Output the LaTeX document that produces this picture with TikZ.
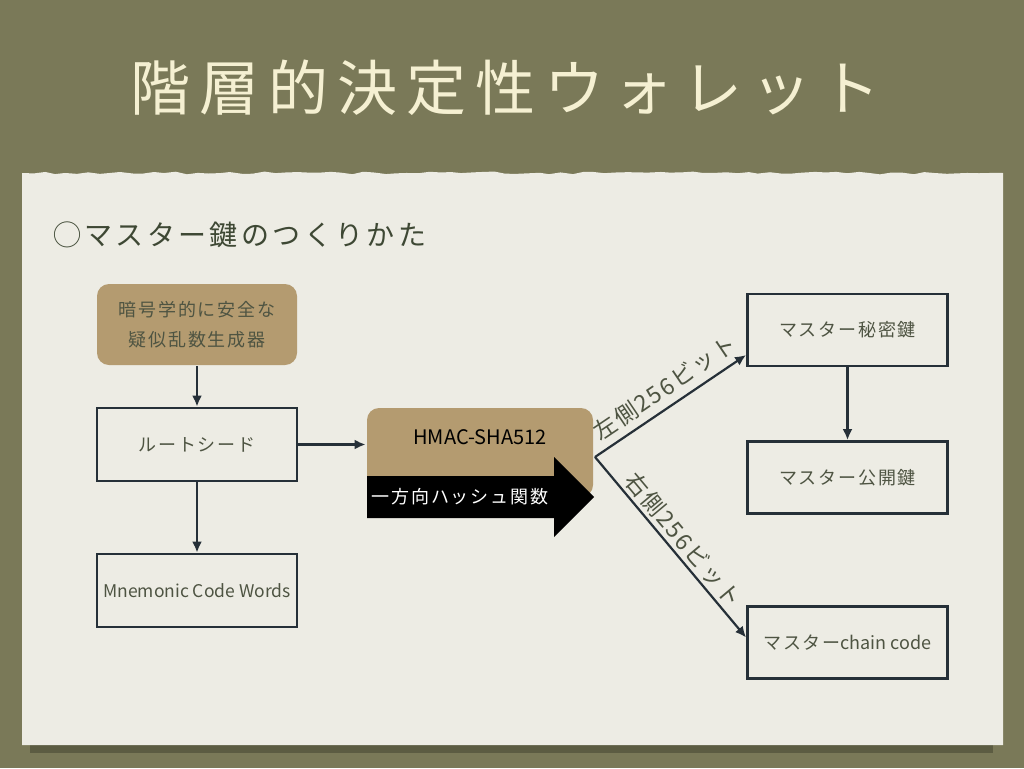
\documentclass[tikz,border=0pt]{standalone}
\usepackage{fontspec}
\setmainfont{Noto Sans CJK JP}
\newfontfamily\jpfont{Noto Sans CJK JP}
\newfontfamily\titlefont[LetterSpace=15]{Noto Sans CJK JP}
\newfontfamily\subfont[LetterSpace=12]{Noto Sans CJK JP}
\newfontfamily\boxfont[LetterSpace=10]{Noto Sans CJK JP}
\newfontfamily\labelfont[LetterSpace=8]{Noto Sans CJK JP}
\usetikzlibrary{arrows.meta, decorations.pathmorphing}
\definecolor{olivebg}{RGB}{122,121,88}
\definecolor{shadowolive}{RGB}{92,92,66}
\definecolor{paper}{RGB}{237,236,228}
\definecolor{tan}{RGB}{180,155,112}
\definecolor{edgeblue}{RGB}{38,48,56}
\definecolor{inkgray}{RGB}{78,84,66}
\definecolor{subink}{RGB}{62,72,52}
\definecolor{titlecream}{RGB}{245,240,210}

\begin{document}
\begin{tikzpicture}[x=1pt, y=-1pt,
% boxes
box/.style={rectangle, draw=edgeblue, line width=2.8pt, fill=paper, minimum width=200pt, minimum height=72pt, text=inkgray, font=\boxfont\fontsize{18}{30}\selectfont, align=center},
tanbox/.style={box, draw=none, fill=tan, rounded corners=12pt},
% connectors
link/.style={draw=edgeblue, line width=2.2pt, -{Latex[length=11pt, width=10pt]}},
linklabel/.style={sloped, above, text=inkgray, font=\labelfont\fontsize{23}{23}\selectfont},
% headings
heading/.style={text=titlecream, font=\titlefont\fontsize{60}{60}\selectfont},
subheading/.style={anchor=west, inner sep=0, text=subink, font=\subfont\fontsize{28}{28}\selectfont}
]

\useasboundingbox (0,0) rectangle (1024,768);

% background and paper sheet
\fill[olivebg] (0,0) rectangle (1024,768);
\fill[shadowolive] (30,738) rectangle (993,753);
\fill[paper] (22,745) -- (22,173) decorate[decoration={random steps, segment length=11pt, amplitude=1.4pt}] { -- (1003,173) } -- (1003,745) -- cycle;

% headings
\node[heading] (title) at (505,88) {階層的決定性ウォレット};
\node[subheading] (subtitle) at (53,235) {◯マスター鍵のつくりかた};

% left column
\node[tanbox, minimum height=81pt] (prng) at (197,324.5) {暗号学的に安全な\\疑似乱数生成器};
\node[box, minimum height=73pt] (root) at (197,444.5) {ルートシード};
\node[box, minimum height=73pt, font=\jpfont\fontsize{17.5}{20}\selectfont] (mnem) at (197,590.5) {Mnemonic Code Words};

% hash function
\node[tanbox, minimum width=226pt, minimum height=89pt] (hmac) at (480,452.5) {};
\node[text=black, font=\jpfont\fontsize{20}{20}\selectfont] (hmaclabel) at (480,437) {HMAC-SHA512};
\fill[black] (367,476) -- (554,476) -- (554,457) -- (594,497) -- (554,537) -- (554,518) -- (367,518) -- cycle;
\node[text=white, font=\boxfont\fontsize{18}{20}\selectfont] (hashlabel) at (460,497) {一方向ハッシュ関数};
\coordinate (fork) at (595,457);

% right column
\node[box] (secret) at (847.5,330) {マスター秘密鍵};
\node[box] (public) at (847.5,477.5) {マスター公開鍵};
\node[box] (chain) at (847.5,642.5) {マスター{\jpfont chain code}};

% connectors
\draw[link] (prng) -- (root);
\draw[link] (root) -- (mnem);
\draw[link] (root.east) -- (root.east -| hmac.west);
\draw[link] (secret) -- (public);
\draw[link] (fork) -- node[linklabel, pos=0.53, inner sep=7pt] {左側256ビット} ([yshift=-25pt]secret.west);
\draw[link] (fork) -- node[linklabel, pos=0.51, inner sep=3pt] {右側256ビット} ([yshift=5pt]chain.west);

\end{tikzpicture}
\end{document}
